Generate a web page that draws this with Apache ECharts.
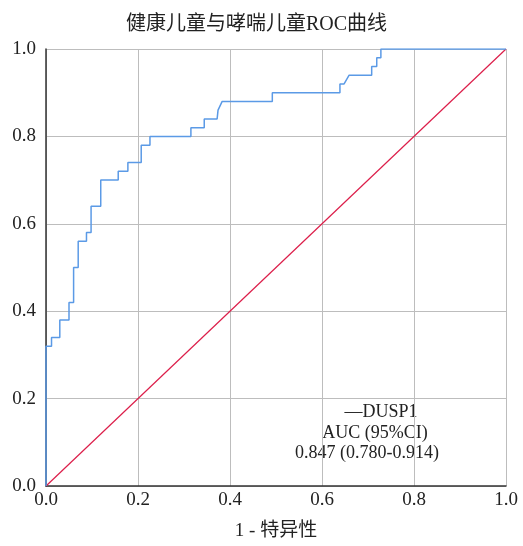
<!DOCTYPE html>
<html><head><meta charset="utf-8">
<script src="https://cdn.jsdelivr.net/npm/echarts@6/dist/echarts.min.js"></script>
<style>html,body{margin:0;padding:0;background:#fff}#c{width:523px;height:546px}</style>
</head><body><div id="c"></div>
<script>
var titleText = '健康儿童与哮喘儿童ROC曲线';
var xAxisName = '1 - 特异性';
var seriesName = 'DUSP1';
var legendLines = ['—DUSP1', 'AUC (95%CI)', '0.847 (0.780-0.914)'];
var fpr = [0, 0, 0.012, 0.012, 0.03, 0.03, 0.05, 0.05, 0.06, 0.06, 0.07, 0.07, 0.088, 0.088, 0.098, 0.098, 0.119, 0.119, 0.157, 0.157, 0.178, 0.178, 0.207, 0.207, 0.226, 0.226, 0.315, 0.315, 0.344, 0.344, 0.372, 0.374, 0.383, 0.492, 0.492, 0.639, 0.639, 0.648, 0.659, 0.708, 0.708, 0.719, 0.719, 0.728, 0.728, 1.0];
var tpr = [0, 0.32, 0.32, 0.34, 0.34, 0.38, 0.38, 0.42, 0.42, 0.50, 0.50, 0.56, 0.56, 0.58, 0.58, 0.64, 0.64, 0.70, 0.70, 0.72, 0.72, 0.74, 0.74, 0.78, 0.78, 0.80, 0.80, 0.82, 0.82, 0.84, 0.84, 0.86, 0.88, 0.88, 0.90, 0.90, 0.92, 0.92, 0.94, 0.94, 0.96, 0.96, 0.98, 0.98, 1.0, 1.0];
var refX = [0, 1];
var refY = [0, 1];

var font = "'Liberation Serif', 'Noto Sans CJK SC', serif";
var chart = echarts.init(document.getElementById('c'));
var rocData = fpr.map(function (x, i) { return [x, tpr[i]]; });
var refData = refX.map(function (x, i) { return [x, refY[i]]; });
chart.setOption({
  animation: false,
  title: { text: titleText, left: 121, top: 10, textStyle: { fontFamily: font, fontSize: 20, fontWeight: 'normal', color: '#222' } },
  grid: { left: 46, right: 17, top: 49, bottom: 57 },
  xAxis: {
    type: 'value', min: 0, max: 1, interval: 0.2,
    name: xAxisName, nameLocation: 'middle', nameGap: 36,
    nameTextStyle: { fontFamily: font, fontSize: 19, color: '#222' },
    axisLine: { show: true, onZero: false, lineStyle: { color: '#333', width: 1.5 } },
    axisTick: { show: false },
    axisLabel: { fontFamily: font, fontSize: 19, color: '#222', margin: 5, formatter: function (v) { return v.toFixed(1); } },
    splitLine: { show: true, lineStyle: { color: '#bdbdbd', width: 1 } }
  },
  yAxis: {
    type: 'value', min: 0, max: 1, interval: 0.2,
    axisLine: { show: true, onZero: false, lineStyle: { color: '#333', width: 1.5 } },
    axisTick: { show: false },
    axisLabel: { fontFamily: font, fontSize: 19, color: '#222', margin: 10, formatter: function (v) { return v.toFixed(1); } },
    splitLine: { show: true, lineStyle: { color: '#bdbdbd', width: 1 } }
  },
  series: [
    { name: 'ref', type: 'line', data: refData, showSymbol: false, lineStyle: { color: '#dc1e4a', width: 1.2 }, z: 3 },
    { name: seriesName, type: 'line', data: rocData, showSymbol: false, lineStyle: { color: '#5b9ae6', width: 1.5 }, z: 4 }
  ],
  graphic: [
    { type: 'text', x: 381, y: 412, style: { text: legendLines[0], font: '18px ' + font, fill: '#222', textAlign: 'center', textVerticalAlign: 'middle' } },
    { type: 'text', x: 375, y: 433, style: { text: legendLines[1], font: '18px ' + font, fill: '#222', textAlign: 'center', textVerticalAlign: 'middle' } },
    { type: 'text', x: 367, y: 453, style: { text: legendLines[2], font: '18px ' + font, fill: '#222', textAlign: 'center', textVerticalAlign: 'middle' } }
  ]
});
</script></body></html>
